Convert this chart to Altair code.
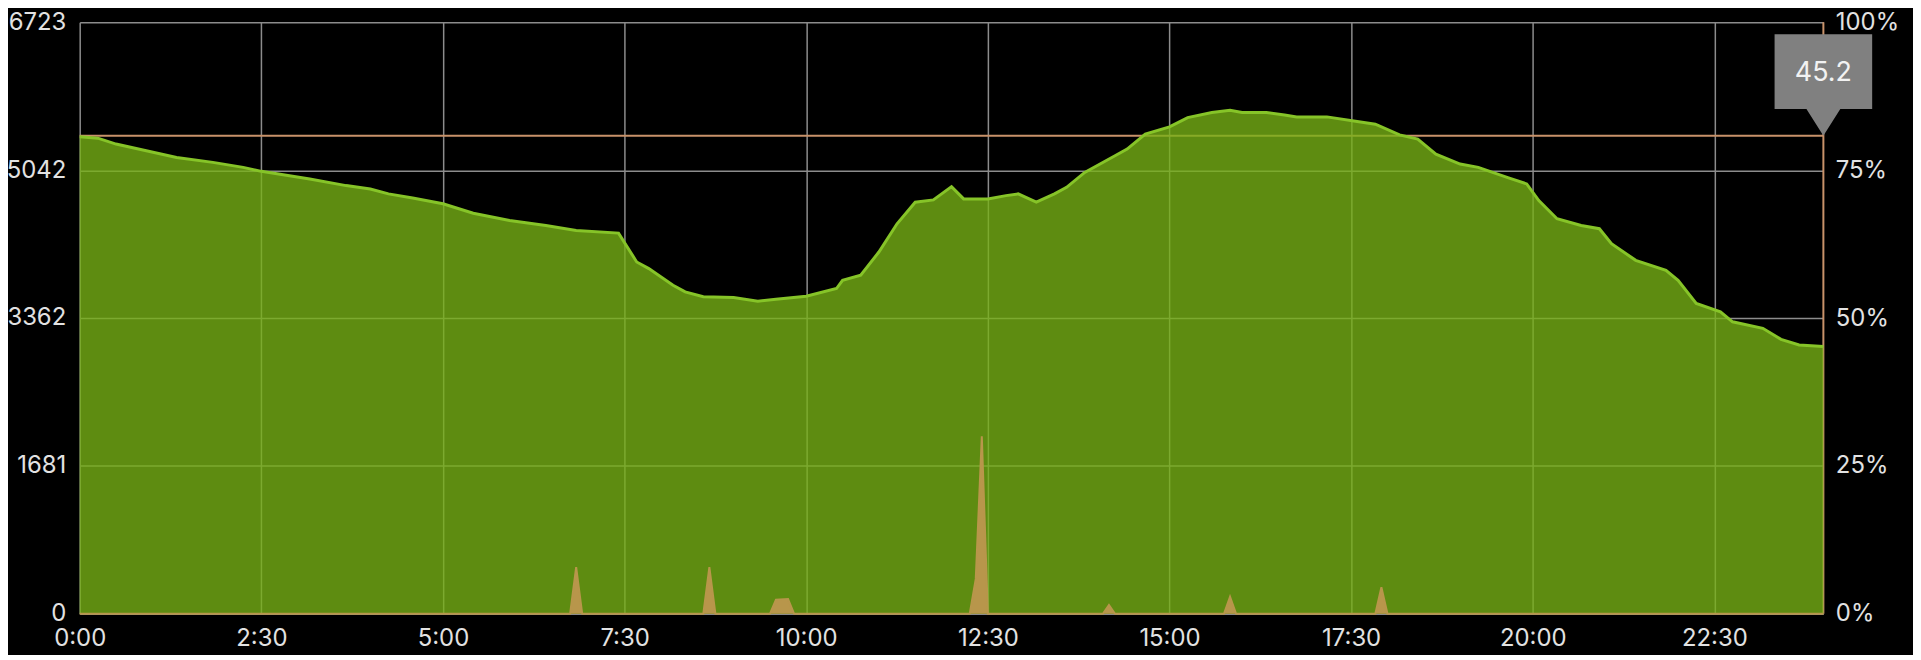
import altair as alt
import pandas as pd

# ---- data ----
green_minutes = [0, 15, 30, 55, 80, 110, 135, 150, 190, 220, 240, 255, 275, 300, 325, 355, 385, 410, 445,
                 460, 470, 490, 500, 515, 540, 560, 575, 600, 625, 630, 645, 660, 675, 690, 705, 720, 730,
                 750, 765, 775, 790, 805, 815, 830, 855, 865, 880, 900, 915, 935, 950, 960, 980, 995, 1005,
                 1030, 1055, 1070, 1090, 1105, 1120, 1140, 1155, 1180, 1195, 1205, 1220, 1240, 1255, 1265,
                 1285, 1310, 1320, 1335, 1355, 1365, 1390, 1405, 1420, 1440]
green_values = [5421, 5406, 5339, 5263, 5187, 5131, 5074, 5029, 4942, 4867, 4829, 4773, 4727, 4660, 4553,
                4471, 4414, 4357, 4327, 3999, 3924, 3735, 3659, 3603, 3596, 3554, 3576, 3610, 3697, 3791,
                3848, 4112, 4433, 4678, 4704, 4855, 4716, 4716, 4753, 4773, 4678, 4773, 4847, 5017, 5206,
                5282, 5452, 5534, 5640, 5697, 5723, 5697, 5697, 5670, 5648, 5648, 5595, 5565, 5444, 5395,
                5225, 5112, 5074, 4954, 4886, 4697, 4490, 4414, 4377, 4207, 4018, 3905, 3791, 3528, 3433,
                3319, 3245, 3120, 3056, 3037]

tan_minutes = [0, 405, 410, 415, 515, 520, 525, 570, 575, 585, 590, 735, 740, 745, 750, 845, 850, 855,
               945, 950, 955, 1070, 1075, 1080, 1440]
tan_percent = [0, 0, 7.9, 0, 0, 7.9, 0, 0, 2.4, 2.5, 0, 0, 5.9, 30, 0, 0, 1.5, 0, 0, 2.9, 0, 0, 4.5, 0, 0]

threshold_value = [5433]
now_minute = [1440]
callout_text = ["45.2"]

x_tick_values = [0, 150, 300, 450, 600, 750, 900, 1050, 1200, 1350]
x_tick_labels = ["0:00", "2:30", "5:00", "7:30", "10:00", "12:30", "15:00", "17:30", "20:00", "22:30"]
y_left_ticks = [0, 1681, 3362, 5042, 6723]
y_right_ticks = [0, 25, 50, 75, 100]

# ---- tables ----
green_df = pd.DataFrame({"t": green_minutes, "v": green_values})
tan_df = pd.DataFrame({"t": tan_minutes, "p": tan_percent})
thr_df = pd.DataFrame({"v": threshold_value})
now_df = pd.DataFrame({"t": now_minute})
callout_df = pd.DataFrame({"t": now_minute, "v": threshold_value, "label": callout_text})

GREEN_FILL = "#77b116"
GREEN_LINE = "#86c428"
TAN = "#b8964b"
ORANGE = "#c8926a"
LABEL = "#e2e2e2"

x_label_expr = ("[" + ",".join("'%s'" % s for s in x_tick_labels) + "][indexof(["
                + ",".join(str(v) for v in x_tick_values) + "], datum.value)]")

x_enc = alt.X("t:Q", scale=alt.Scale(domain=[0, 1440], nice=False, zero=False),
              axis=alt.Axis(values=x_tick_values, labelExpr=x_label_expr, grid=True, title=None,
                            labelPadding=13, labelFlush=False, labelOverlap=False))
y_left = alt.Y("v:Q", scale=alt.Scale(domain=[0, 6723], nice=False, zero=True),
               axis=alt.Axis(values=y_left_ticks, format="d", grid=True, title=None, labelPadding=14,
                             labelFlush=False, labelOverlap=False, orient="left"))

thr_rule = alt.Chart(thr_df).mark_rule(color=ORANGE, strokeWidth=2).encode(y=y_left)
now_rule = alt.Chart(now_df).mark_rule(color=ORANGE, strokeWidth=2).encode(x=x_enc)
green_area = alt.Chart(green_df).mark_area(color=GREEN_FILL, opacity=0.79).encode(x=x_enc, y=y_left)
green_line = alt.Chart(green_df).mark_line(color=GREEN_LINE, strokeWidth=3).encode(x=x_enc, y=y_left)

callout_path = "M-0.98,-2.04 L0.98,-2.04 L0.98,-0.54 L0.34,-0.54 L0,0 L-0.34,-0.54 L-0.98,-0.54 Z"
callout_box = alt.Chart(callout_df).mark_point(
    shape=callout_path, size=10000, filled=True, color="#808080", opacity=1, strokeWidth=0
).encode(x=x_enc, y=y_left)
callout_label = alt.Chart(callout_df).mark_text(
    fontSize=27, color="#f2f2f2", dy=-63, align="center", baseline="middle", font="Inter"
).encode(x=x_enc, y=y_left, text="label:N")

left_layer = alt.layer(thr_rule, now_rule, green_area, green_line, callout_box, callout_label)

tan_area = alt.Chart(tan_df).mark_area(
    color=TAN, opacity=1, line={"color": TAN, "strokeWidth": 2}
).encode(
    x=x_enc,
    y=alt.Y("p:Q", scale=alt.Scale(domain=[0, 100], nice=False, zero=True),
            axis=alt.Axis(values=y_right_ticks, labelExpr="datum.value + '%'", grid=False, title=None,
                          orient="right", labelPadding=12, labelFlush=False, labelOverlap=False)),
)

chart = alt.layer(left_layer, tan_area).resolve_scale(y="independent").properties(
    width=1751, height=594, background="black",
    autosize=alt.AutoSizeParams(type="none"),
    padding={"left": 72, "top": 13, "right": 90, "bottom": 40},
).configure_view(strokeWidth=0).configure_axis(
    domain=False, ticks=False, gridColor="#8c8c8c", gridWidth=1.5, gridOpacity=1,
    labelFont="Inter", labelFontSize=24, labelFontWeight=400, labelColor=LABEL
)

chart.save("out.html", embed_options={"renderer": "svg", "actions": False})
